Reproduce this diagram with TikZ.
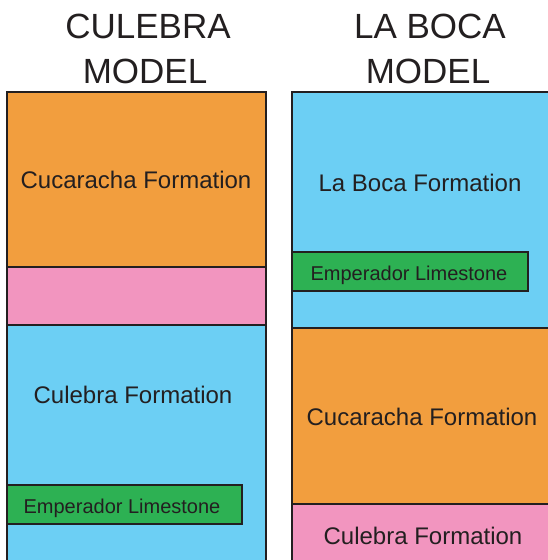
\documentclass[tikz,border=0pt]{standalone}
\usepackage{fontspec}
\setmainfont{Liberation Sans}
\definecolor{ink}{HTML}{231F20}
\definecolor{orng}{HTML}{F29E3E}
\definecolor{pnk}{HTML}{F295BF}
\definecolor{blu}{HTML}{6CCFF4}
\definecolor{grn}{HTML}{2DB153}
\begin{document}
\begin{tikzpicture}[x=1pt,y=-1pt,
  layer/.style={draw=ink,line width=2pt},
  lbl/.style={text=ink,font=\fontsize{24}{28}\selectfont,inner sep=0pt,anchor=base},
  small/.style={text=ink,font=\fontsize{20}{24}\selectfont,inner sep=0pt,anchor=base},
  title/.style={text=ink,font=\fontsize{35}{40}\selectfont,inner sep=0pt}]
\useasboundingbox (0,0) rectangle (548,560);
\clip (0,0) rectangle (548,560);
\fill[white] (0,0) rectangle (548,560);
% left column
\path[layer,fill=orng] (7,92) rectangle (266,267);
\path[layer,fill=pnk] (7,267) rectangle (266,325);
\path[layer,fill=blu] (7,325) rectangle (266,563);
\path[layer,fill=grn] (7,485) rectangle (242,524);
% right column
\path[layer,fill=blu] (292,92) rectangle (552,328);
\path[layer,fill=orng] (292,328) rectangle (552,504);
\path[layer,fill=pnk] (292,504) rectangle (552,563);
\path[layer,fill=grn] (292,252) rectangle (528,291);
% titles
\node[title] (t1a) at (148,26) {CULEBRA};
\node[title] (t1b) at (145,71) {MODEL};
\node[title] (t2a) at (430,26) {LA BOCA};
\node[title] (t2b) at (428,71) {MODEL};
% labels
\node[lbl] (l1) at (136,188) {Cucaracha Formation};
\node[lbl] (l2) at (133,403) {Culebra Formation};
\node[small] (l3) at (122,513) {Emperador Limestone};
\node[lbl] (r1) at (420,191) {La Boca Formation};
\node[small] (r2) at (409,280) {Emperador Limestone};
\node[lbl] (r3) at (422,425) {Cucaracha Formation};
\node[lbl] (r4) at (423,544) {Culebra Formation};
\end{tikzpicture}
\end{document}
